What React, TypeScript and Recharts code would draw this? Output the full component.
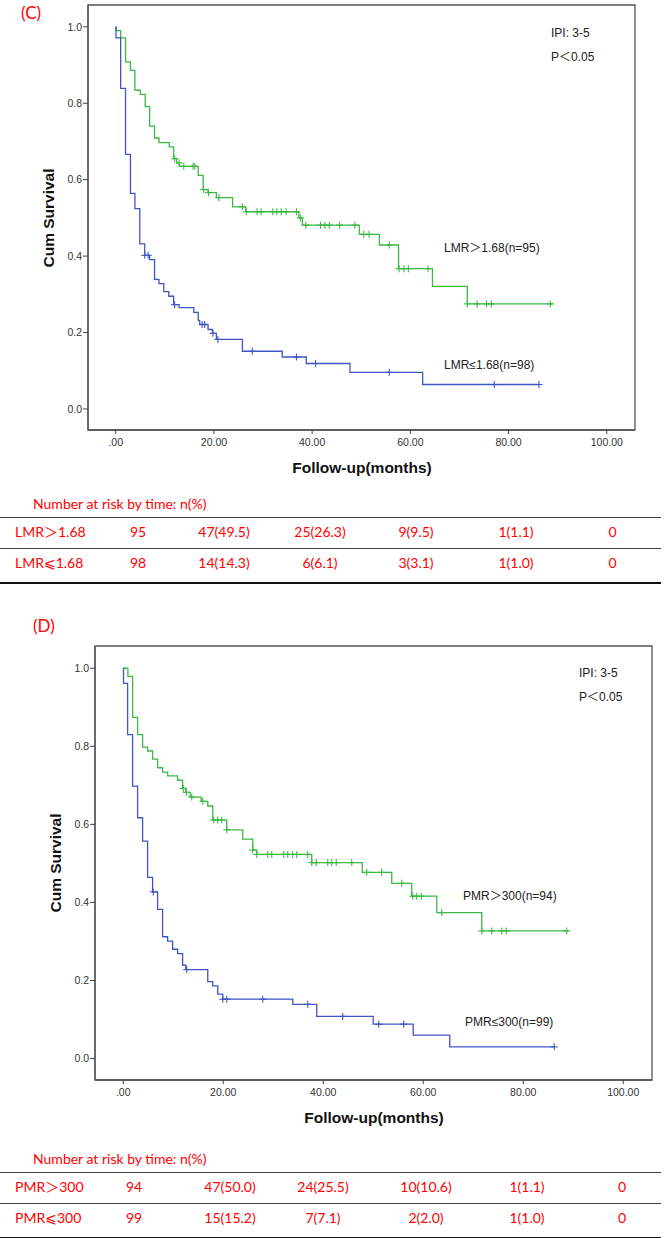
import React from 'react';
import { ComposedChart, Line, Scatter, XAxis, YAxis, ReferenceArea } from 'recharts';

type Pt = [number, number];

// ---------- Panel (C) : LMR ----------
const cHighSteps: Pt[] = [
  [0, 1.0], [0.1, 0.99], [1.0, 0.971], [2.0, 0.908], [3.0, 0.886], [3.9, 0.834], [5.0, 0.823],
  [6.0, 0.791], [6.9, 0.74], [7.9, 0.709], [8.8, 0.697], [10.9, 0.686], [11.8, 0.655], [12.4, 0.644],
  [13.0, 0.635], [16.8, 0.611], [17.8, 0.574], [18.8, 0.566], [20.5, 0.553], [23.8, 0.529],
  [26.5, 0.516], [37.3, 0.5], [38.0, 0.481], [49.6, 0.457], [53.7, 0.429], [57.6, 0.367],
  [64.5, 0.321], [71.6, 0.275], [89.0, 0.275],
];
const cHighCensor: Pt[] = [
  [12.0, 0.655], [12.9, 0.644], [13.85, 0.635], [15.75, 0.635], [16.1, 0.635], [17.9, 0.574],
  [18.9, 0.566], [21.0, 0.553], [25.8, 0.529], [26.6, 0.516], [28.8, 0.516], [29.6, 0.516],
  [32.0, 0.516], [32.8, 0.516], [33.7, 0.516], [34.7, 0.516], [36.8, 0.516], [37.6, 0.5],
  [38.7, 0.481], [41.7, 0.481], [42.6, 0.481], [43.5, 0.481], [45.6, 0.481], [48.7, 0.481],
  [50.5, 0.457], [51.6, 0.457], [55.7, 0.429], [57.7, 0.367], [58.7, 0.367], [59.6, 0.367],
  [63.6, 0.367], [71.6, 0.275], [73.6, 0.275], [75.5, 0.275], [76.5, 0.275], [88.5, 0.275],
];
const cLowSteps: Pt[] = [
  [0, 1.0], [0.05, 0.971], [1.0, 0.839], [2.0, 0.666], [3.0, 0.564], [3.9, 0.524], [4.9, 0.432],
  [5.9, 0.402], [6.9, 0.391], [7.9, 0.339], [8.8, 0.328], [9.8, 0.307], [10.8, 0.295], [11.8, 0.273],
  [12.9, 0.265], [15.9, 0.253], [16.8, 0.232], [17.1, 0.221], [18.8, 0.208], [19.7, 0.198],
  [20.5, 0.182], [25.8, 0.151], [33.9, 0.136], [38.8, 0.119], [47.7, 0.096], [62.5, 0.064],
  [86.2, 0.064],
];
const cLowCensor: Pt[] = [
  [5.9, 0.402], [6.6, 0.402], [12.0, 0.273], [17.6, 0.221], [18.1, 0.221], [19.8, 0.198],
  [20.8, 0.182], [27.8, 0.151], [36.8, 0.136], [40.7, 0.119], [55.7, 0.096], [77.1, 0.064],
  [86.2, 0.064],
];

// ---------- Panel (D) : PMR ----------
const dHighSteps: Pt[] = [
  [0, 1.0], [0.93, 0.979], [1.87, 0.874], [2.87, 0.83], [3.87, 0.798], [4.87, 0.788], [5.87, 0.767],
  [6.87, 0.745], [7.87, 0.734], [8.87, 0.724], [10.87, 0.713], [11.87, 0.692], [12.5, 0.682],
  [13.4, 0.67], [15.6, 0.659], [16.9, 0.647], [17.9, 0.611], [20.7, 0.586], [23.9, 0.562],
  [25.9, 0.534], [26.7, 0.523], [37.7, 0.502], [47.8, 0.477], [53.7, 0.449], [57.7, 0.416],
  [62.7, 0.374], [71.7, 0.327], [89.0, 0.327],
];
const dHighCensor: Pt[] = [
  [12.0, 0.692], [12.6, 0.682], [13.7, 0.67], [15.9, 0.659], [18.1, 0.611], [18.9, 0.611],
  [19.7, 0.611], [20.7, 0.586], [25.9, 0.534], [26.7, 0.523], [28.9, 0.523], [29.7, 0.523],
  [32.1, 0.523], [32.9, 0.523], [33.9, 0.523], [34.7, 0.523], [36.9, 0.523], [37.7, 0.502],
  [38.6, 0.502], [40.9, 0.502], [41.7, 0.502], [42.6, 0.502], [45.7, 0.502], [48.7, 0.477],
  [51.7, 0.477], [55.7, 0.449], [57.9, 0.416], [58.7, 0.416], [59.6, 0.416], [63.7, 0.374],
  [71.7, 0.327], [73.7, 0.327], [75.7, 0.327], [76.6, 0.327], [88.7, 0.327],
];
const dLowSteps: Pt[] = [
  [0, 1.0], [0.05, 0.961], [0.87, 0.83], [1.87, 0.698], [2.87, 0.617], [3.87, 0.557], [4.87, 0.464],
  [5.87, 0.427], [6.87, 0.382], [7.87, 0.312], [8.87, 0.301], [9.87, 0.28], [10.87, 0.269],
  [11.87, 0.239], [12.5, 0.228], [16.9, 0.197], [17.9, 0.186], [18.9, 0.165], [19.9, 0.152],
  [33.9, 0.139], [38.7, 0.108], [50.0, 0.088], [58.0, 0.06], [65.3, 0.03], [86.2, 0.03],
];
const dLowCensor: Pt[] = [
  [6.0, 0.427], [12.7, 0.228], [19.9, 0.152], [20.7, 0.152], [27.9, 0.152], [36.9, 0.139],
  [43.9, 0.108], [51.1, 0.088], [56.1, 0.088], [86.2, 0.03],
];

// ---------- axes ----------
const xTicks = [0, 20, 40, 60, 80, 100];
const yTicks = [0, 0.2, 0.4, 0.6, 0.8, 1.0];
const xDomain: [number, number] = [-5.65, 105.75];
const yDomain: [number, number] = [-0.055, 1.057];

// ---------- risk tables ----------
const cRowLabels = ['LMR＞1.68', 'LMR⩽1.68'];
const cRowHigh = ['95', '47(49.5)', '25(26.3)', '9(9.5)', '1(1.1)', '0'];
const cRowLow = ['98', '14(14.3)', '6(6.1)', '3(3.1)', '1(1.0)', '0'];
const dRowLabels = ['PMR＞300', 'PMR⩽300'];
const dRowHigh = ['94', '47(50.0)', '24(25.5)', '10(10.6)', '1(1.1)', '0'];
const dRowLow = ['99', '15(15.2)', '7(7.1)', '2(2.0)', '1(1.0)', '0'];

const GREEN = '#3cb944';
const BLUE = '#3f56c4';
const RED = '#ff0000';
const AXIS = '#555';

const toObj = (a: Pt[]) => a.map(([t, s]) => ({ t, s }));
const fx = (v: number) => (v === 0 ? '.00' : v.toFixed(2));
const fy = (v: number) => v.toFixed(1);

const cross = (color: string) => (p: any) => {
  const { cx, cy } = p;
  if (cx == null || cy == null) return <g />;
  return (
    <g stroke={color} strokeWidth={1.1}>
      <line x1={cx - 3.5} x2={cx + 3.5} y1={cy} y2={cy} />
      <line x1={cx} x2={cx} y1={cy - 3.5} y2={cy + 3.5} />
    </g>
  );
};

const tickStyle = { fontSize: 10.5, fill: '#333', fontFamily: '"Liberation Sans", Arial, sans-serif' };

function KM(props: {
  top: number; height: number; margin: any; yWidth: number;
  high: Pt[]; highC: Pt[]; low: Pt[]; lowC: Pt[];
}) {
  const { top, height, margin, yWidth, high, highC, low, lowC } = props;
  return (
    <div style={{ position: 'absolute', left: 0, top }}>
      <ComposedChart width={665} height={height} margin={margin}>
        <XAxis dataKey="t" type="number" domain={xDomain} allowDataOverflow ticks={xTicks}
          tickFormatter={fx} tick={tickStyle} tickLine={{ stroke: '#444' }} axisLine={{ stroke: AXIS, strokeWidth: 1.3 }}
          tickSize={4} tickMargin={5} height={30} interval={0} />
        <YAxis type="number" domain={yDomain} allowDataOverflow ticks={yTicks} tickFormatter={fy}
          tick={tickStyle} tickLine={{ stroke: '#444' }} axisLine={{ stroke: AXIS, strokeWidth: 1.3 }}
          tickSize={5} tickMargin={1} width={yWidth} interval={0} />
        <ReferenceArea x1={xDomain[0]} x2={xDomain[1]} y1={yDomain[0]} y2={yDomain[1]}
          fill="none" fillOpacity={0} stroke={AXIS} strokeWidth={1.3} ifOverflow="visible" />
        <Line data={toObj(high)} dataKey="s" type="stepAfter" stroke={GREEN} strokeWidth={1.3} dot={false} isAnimationActive={false} />
        <Line data={toObj(low)} dataKey="s" type="stepAfter" stroke={BLUE} strokeWidth={1.3} dot={false} isAnimationActive={false} />
        <Scatter data={toObj(highC)} dataKey="s" shape={cross(GREEN)} isAnimationActive={false} />
        <Scatter data={toObj(lowC)} dataKey="s" shape={cross(BLUE)} isAnimationActive={false} />
      </ComposedChart>
    </div>
  );
}

const T = (p: { x: number; y: number; fs: number; center?: boolean; color?: string; bold?: boolean; font?: string; children: any }) => (
  <div style={{
    position: 'absolute', left: p.x, top: p.y - p.fs / 2, fontSize: p.fs, lineHeight: `${p.fs}px`,
    whiteSpace: 'nowrap', color: p.color || '#222', fontWeight: p.bold ? 'bold' : 'normal',
    fontFamily: p.font || '"Liberation Sans", Arial, "Noto Sans CJK SC", sans-serif',
    transform: p.center ? 'translateX(-50%)' : undefined,
  }}>{p.children}</div>
);

const REDFONT = 'Lato, "DejaVu Sans", "Noto Sans CJK SC", sans-serif';

function RiskTable(p: { top: number; labels: string[]; high: string[]; low: string[]; cols: number[] }) {
  const { top, labels, high, low, cols } = p;
  const rows = [high, low];
  return (
    <>
      <T x={33} y={top} fs={14} color={RED} font={REDFONT}>Number at risk by time: n(%)</T>
      <div style={{ position: 'absolute', left: 0, top: top + 12.5, width: 661, height: 1.5, background: '#404040' }} />
      <div style={{ position: 'absolute', left: 0, top: top + 43.5, width: 661, height: 1.5, background: '#404040' }} />
      <div style={{ position: 'absolute', left: 0, top: top + 78, width: 661, height: 2, background: '#111' }} />
      {rows.map((r, i) => (
        <React.Fragment key={i}>
          <T x={15} y={top + 28 + i * 31} fs={14} color={RED} font={REDFONT}>{labels[i]}</T>
          {r.map((v, j) => (
            <T key={j} x={cols[j]} y={top + 28 + i * 31} fs={14} color={RED} font={REDFONT} center>{v}</T>
          ))}
        </React.Fragment>
      ))}
    </>
  );
}

export default function App() {
  return (
    <div style={{ position: 'absolute', left: 0, top: 0, width: 665, height: 1238, background: '#fff', overflow: 'hidden' }}>
      {/* Panel C */}
      <T x={21} y={12} fs={17} color={RED} font={REDFONT}>(C)</T>
      <KM top={0} height={490} margin={{ top: 5, right: 30, bottom: 30, left: 0 }} yWidth={88}
        high={cHighSteps} highC={cHighCensor} low={cLowSteps} lowC={cLowCensor} />
      <T x={551} y={33} fs={12}>IPI: 3-5</T>
      <T x={551} y={57} fs={12}>P＜0.05</T>
      <T x={444} y={248} fs={12}>LMR＞1.68(n=95)</T>
      <T x={444} y={365} fs={12}>LMR≤1.68(n=98)</T>
      <div style={{ position: 'absolute', left: 49, top: 217.5, transform: 'translate(-50%,-50%) rotate(-90deg)', fontSize: 15.5, fontWeight: 'bold', whiteSpace: 'nowrap', fontFamily: '"Liberation Sans", Arial, sans-serif', color: '#111' }}>Cum Survival</div>
      <T x={362} y={468} fs={15.5} bold center color="#111">Follow-up(months)</T>
      <RiskTable top={504} labels={cRowLabels} high={cRowHigh} low={cRowLow} cols={[138, 224, 320, 416, 516, 612.5]} />

      {/* Panel D */}
      <T x={33} y={625.5} fs={17} color={RED} font={REDFONT}>(D)</T>
      <KM top={600} height={540} margin={{ top: 46, right: 13, bottom: 30, left: 0 }} yWidth={95}
        high={dHighSteps} highC={dHighCensor} low={dLowSteps} lowC={dLowCensor} />
      <T x={579} y={673} fs={12}>IPI: 3-5</T>
      <T x={579} y={697} fs={12}>P＜0.05</T>
      <T x={463} y={896} fs={12}>PMR＞300(n=94)</T>
      <T x={465} y={1022} fs={12}>PMR≤300(n=99)</T>
      <div style={{ position: 'absolute', left: 56, top: 863, transform: 'translate(-50%,-50%) rotate(-90deg)', fontSize: 15.5, fontWeight: 'bold', whiteSpace: 'nowrap', fontFamily: '"Liberation Sans", Arial, sans-serif', color: '#111' }}>Cum Survival</div>
      <T x={374} y={1118} fs={15.5} bold center color="#111">Follow-up(months)</T>
      <RiskTable top={1159} labels={dRowLabels} high={dRowHigh} low={dRowLow} cols={[134, 230, 323, 426, 527, 622]} />
    </div>
  );
}
